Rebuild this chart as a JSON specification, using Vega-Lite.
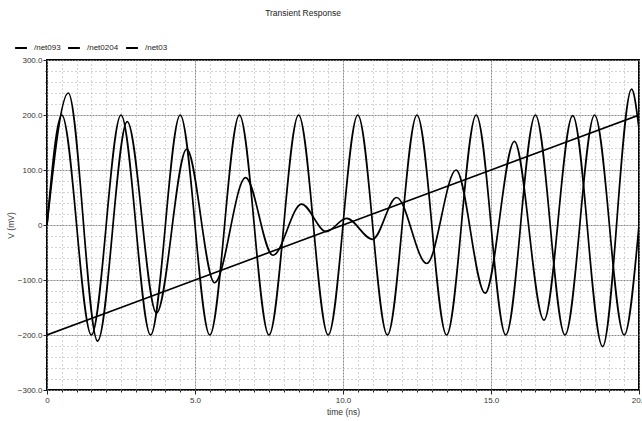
{
  "$schema": "https://vega.github.io/schema/vega-lite/v6.json",
  "width": 592,
  "height": 330,
  "autosize": "none",
  "padding": {"left": 47, "top": 60, "right": 3, "bottom": 31},
  "background": "white",
  "title": {
    "text": "Transient Response",
    "fontSize": 8.5,
    "fontWeight": "normal",
    "font": "Liberation Sans",
    "color": "#222",
    "anchor": "middle",
    "dx": -40,
    "offset": 24
  },
  "config": {
    "view": {"stroke": "black", "strokeWidth": 2},
    "axis": {
      "labelFont": "Liberation Sans",
      "titleFont": "Liberation Sans",
      "labelFontSize": 8,
      "titleFontSize": 8.5,
      "titleFontWeight": "normal",
      "labelColor": "#333",
      "titleColor": "#333",
      "domain": false,
      "tickColor": "#222",
      "labelOverlap": false,
      "labelFlush": false
    }
  },
  "data": {
    "values": [
      {"series": "/net0204", "t": 0, "v": 0},
      {"series": "/net0204", "t": 0.5, "v": 200},
      {"series": "/net0204", "t": 1.5, "v": -200},
      {"series": "/net0204", "t": 2.5, "v": 200},
      {"series": "/net0204", "t": 3.5, "v": -200},
      {"series": "/net0204", "t": 4.5, "v": 200},
      {"series": "/net0204", "t": 5.5, "v": -200},
      {"series": "/net0204", "t": 6.5, "v": 200},
      {"series": "/net0204", "t": 7.5, "v": -200},
      {"series": "/net0204", "t": 8.5, "v": 200},
      {"series": "/net0204", "t": 9.5, "v": -200},
      {"series": "/net0204", "t": 10.5, "v": 200},
      {"series": "/net0204", "t": 11.5, "v": -200},
      {"series": "/net0204", "t": 12.5, "v": 200},
      {"series": "/net0204", "t": 13.5, "v": -200},
      {"series": "/net0204", "t": 14.5, "v": 200},
      {"series": "/net0204", "t": 15.5, "v": -200},
      {"series": "/net0204", "t": 16.5, "v": 200},
      {"series": "/net0204", "t": 17.5, "v": -200},
      {"series": "/net0204", "t": 18.5, "v": 200},
      {"series": "/net0204", "t": 19.5, "v": -200},
      {"series": "/net0204", "t": 20, "v": 0},

      {"series": "/net03", "t": 0, "v": 0},
      {"series": "/net03", "t": 0.72, "v": 240},
      {"series": "/net03", "t": 1.71, "v": -211},
      {"series": "/net03", "t": 2.71, "v": 188},
      {"series": "/net03", "t": 3.7, "v": -160},
      {"series": "/net03", "t": 4.72, "v": 138},
      {"series": "/net03", "t": 5.66, "v": -105},
      {"series": "/net03", "t": 6.71, "v": 86},
      {"series": "/net03", "t": 7.63, "v": -55},
      {"series": "/net03", "t": 8.6, "v": 38},
      {"series": "/net03", "t": 9.43, "v": -12},
      {"series": "/net03", "t": 10.12, "v": 12},
      {"series": "/net03", "t": 11.0, "v": -26},
      {"series": "/net03", "t": 11.81, "v": 50},
      {"series": "/net03", "t": 12.83, "v": -70},
      {"series": "/net03", "t": 13.82, "v": 100},
      {"series": "/net03", "t": 14.8, "v": -124},
      {"series": "/net03", "t": 15.79, "v": 152},
      {"series": "/net03", "t": 16.79, "v": -173},
      {"series": "/net03", "t": 17.76, "v": 199},
      {"series": "/net03", "t": 18.77, "v": -221},
      {"series": "/net03", "t": 19.75, "v": 247},
      {"series": "/net03", "t": 20, "v": 175},

      {"series": "/net093", "t": 0, "v": -200},
      {"series": "/net093", "t": 5, "v": -100},
      {"series": "/net093", "t": 10, "v": 0},
      {"series": "/net093", "t": 15, "v": 100},
      {"series": "/net093", "t": 20, "v": 200}
    ]
  },
  "mark": {"type": "line", "interpolate": "monotone", "strokeWidth": 1.7, "clip": true},
  "encoding": {
    "x": {
      "field": "t",
      "type": "quantitative",
      "scale": {"domain": [0, 20], "nice": false, "zero": false},
      "axis": {
        "title": "time (ns)",
        "titleY": 21,
        "titleBaseline": "middle",
        "values": [0,0.5,1,1.5,2,2.5,3,3.5,4,4.5,5,5.5,6,6.5,7,7.5,8,8.5,9,9.5,10,10.5,11,11.5,12,12.5,13,13.5,14,14.5,15,15.5,16,16.5,17,17.5,18,18.5,19,19.5,20],
        "labelExpr": "datum.value % 5 === 0 ? (datum.value === 0 ? '0' : format(datum.value, '.1f')) : ''",
        "labelPadding": 2,
        "tickSize": {"condition": {"test": "datum.value % 5 === 0", "value": 4}, "value": 2},
        "grid": true,
        "gridColor": {"condition": {"test": "datum.value % 5 === 0", "value": "#888"}, "value": "#aaa"},
        "gridDash": {"condition": {"test": "datum.value % 5 === 0", "value": [2, 1]}, "value": [1, 3]},
        "gridWidth": 1
      }
    },
    "y": {
      "field": "v",
      "type": "quantitative",
      "scale": {"domain": [-300, 300], "nice": false},
      "axis": {
        "title": "V (mV)",
        "titleX": -37,
        "titleY": 165,
        "titleAngle": -90,
        "titleAlign": "center",
        "titleBaseline": "middle",
        "values": [-300,-280,-260,-240,-220,-200,-180,-160,-140,-120,-100,-80,-60,-40,-20,0,20,40,60,80,100,120,140,160,180,200,220,240,260,280,300],
        "labelExpr": "datum.value % 100 === 0 ? (datum.value === 0 ? '0' : format(datum.value, '.1f')) : ''",
        "labelPadding": 1,
        "tickSize": {"condition": {"test": "datum.value % 100 === 0", "value": 4}, "value": 2},
        "grid": true,
        "gridColor": {"condition": {"test": "datum.value % 100 === 0", "value": "#888"}, "value": "#aaa"},
        "gridDash": {"condition": {"test": "datum.value % 100 === 0", "value": [2, 1]}, "value": [1, 3]},
        "gridWidth": 1
      }
    },
    "color": {
      "field": "series",
      "type": "nominal",
      "scale": {"domain": ["/net093", "/net0204", "/net03"], "range": ["black", "black", "black"]},
      "legend": {
        "title": null,
        "orient": "none",
        "direction": "horizontal",
        "legendX": -33,
        "legendY": -19,
        "symbolType": "stroke",
        "symbolSize": 140,
        "symbolStrokeWidth": 2,
        "labelFont": "Liberation Sans",
        "labelFontSize": 8,
        "labelColor": "#222",
        "labelOffset": 6,
        "columnPadding": 3
      }
    }
  }
}
